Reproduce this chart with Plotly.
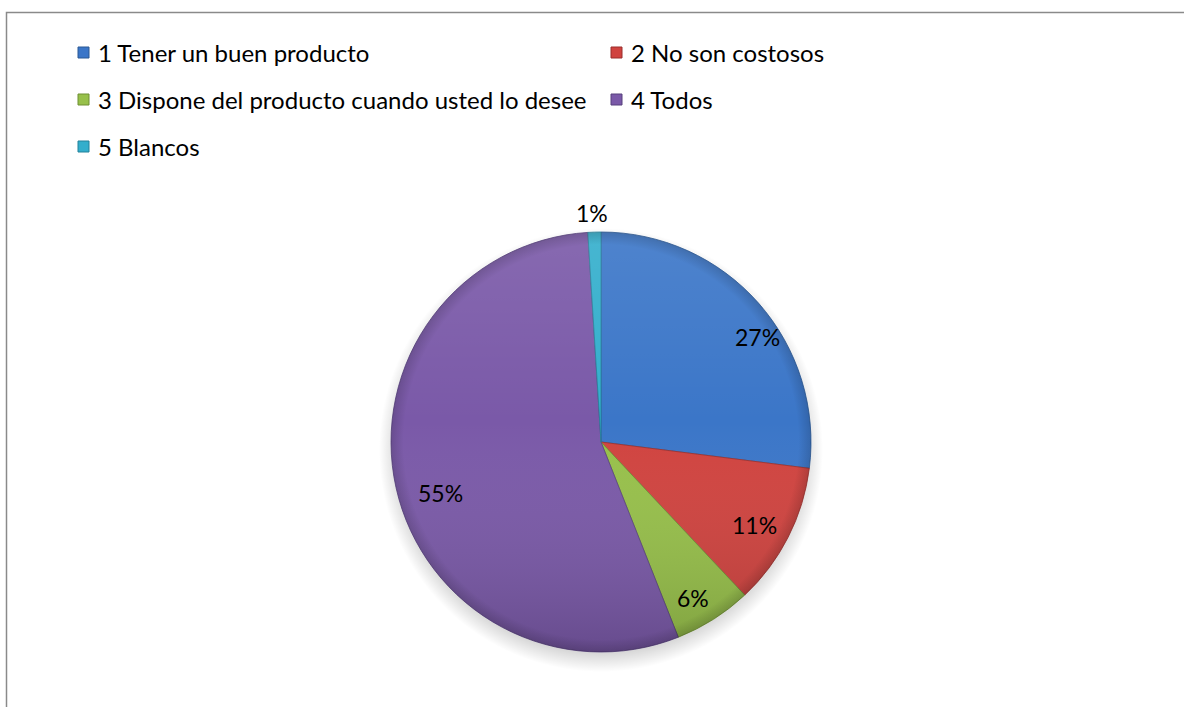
import base64
import math
import plotly.graph_objects as go

# Survey answers and their shares (%)
categories = [
    "1 Tener un buen producto",
    "2 No son costosos",
    "3 Dispone del producto cuando usted lo desee",
    "4 Todos",
    "5 Blancos",
]
values = [27, 11, 6, 55, 1]

# Styling
colors = ["#3b76c8", "#d0433f", "#97c04a", "#7a59a8", "#33aecc"]
edge_colors = ["#2a5894", "#9a2f2c", "#6f8f33", "#57407d", "#23819a"]
label_angle_shift = [7.5, 1.3, 1.8, -4.9, -0.4]   # degrees, label nudge along the rim
label_radius = [0.895, 0.83, 0.865, 0.80, 1.09]   # fraction of pie radius

W, H = 1184, 707
FONT = "Lato"
CX, CY, R = 601, 442, 210


def px(x):
    return x / W


def py(y):
    return 1 - y / H


fig = go.Figure()

fig.add_trace(go.Pie(
    labels=categories,
    values=values,
    sort=False,
    direction="clockwise",
    rotation=0,
    textinfo="none",
    hoverinfo="label+percent",
    marker=dict(colors=colors, line=dict(color=edge_colors, width=0.8)),
    domain=dict(x=[px(CX - R), px(CX + R)], y=[py(CY + R), py(CY - R)]),
    showlegend=False,
))

# Soft vertical shading over the pie
shade_svg = (
    '<svg xmlns="http://www.w3.org/2000/svg" width="420" height="420" viewBox="0 0 420 420">'
    '<defs><linearGradient id="g" x1="0" y1="0" x2="0" y2="1">'
    '<stop offset="0" stop-color="#ffffff" stop-opacity="0.10"/>'
    '<stop offset="0.45" stop-color="#ffffff" stop-opacity="0"/>'
    '<stop offset="1" stop-color="#000000" stop-opacity="0.16"/>'
    '</linearGradient>'
    '<radialGradient id="rim" cx="0.5" cy="0.5" r="0.5">'
    '<stop offset="0.94" stop-color="#000000" stop-opacity="0"/>'
    '<stop offset="1" stop-color="#000000" stop-opacity="0.15"/>'
    '</radialGradient></defs>'
    '<circle cx="210" cy="210" r="210" fill="url(#g)"/>'
    '<circle cx="210" cy="210" r="210" fill="url(#rim)"/>'
    '</svg>'
)
shadow_svg = (
    '<svg xmlns="http://www.w3.org/2000/svg" width="460" height="460" viewBox="0 0 460 460">'
    '<defs><radialGradient id="s" cx="0.5" cy="0.5" r="0.5">'
    '<stop offset="0.88" stop-color="#000000" stop-opacity="0.22"/>'
    '<stop offset="1" stop-color="#000000" stop-opacity="0"/>'
    '</radialGradient></defs>'
    '<circle cx="230" cy="230" r="230" fill="url(#s)"/>'
    '</svg>'
)


def data_uri(svg):
    return "data:image/svg+xml;base64," + base64.b64encode(svg.encode()).decode()


fig.add_layout_image(
    source=data_uri(shadow_svg), xref="paper", yref="paper",
    x=px(CX - R - 12), y=py(CY - R - 4), sizex=(2 * R + 24) / W, sizey=(2 * R + 24) / H,
    xanchor="left", yanchor="top", sizing="stretch", layer="below",
)
fig.add_layout_image(
    source=data_uri(shade_svg), xref="paper", yref="paper",
    x=px(CX - R), y=py(CY - R), sizex=2 * R / W, sizey=2 * R / H,
    xanchor="left", yanchor="top", sizing="stretch", layer="above",
)

# Percentage labels placed around each slice's bisector
total = sum(values)
start = 0.0
annotations = []
for i, v in enumerate(values):
    span = 360.0 * v / total
    ang = math.radians(start + span / 2 + label_angle_shift[i])
    r = R * label_radius[i]
    lx = CX + r * math.sin(ang)
    ly = CY - r * math.cos(ang)
    annotations.append(dict(
        x=px(lx), y=py(ly), xref="paper", yref="paper",
        text=f"{round(100 * v / total)}%", showarrow=False,
        xanchor="center", yanchor="middle",
        font=dict(family=FONT, size=23, color="#000000"),
    ))
    start += span

# Legend: two columns, three rows
legend_cols = [78, 611]
legend_text_x = [96, 629]
legend_rows = [52.5, 99.5, 146.5]
shapes = []
for i, name in enumerate(categories):
    col, row = i % 2, i // 2
    mx, my = legend_cols[col], legend_rows[row]
    shapes.append(dict(
        type="rect", xref="paper", yref="paper",
        x0=px(mx), x1=px(mx + 11), y0=py(my + 5.5), y1=py(my - 5.5),
        fillcolor=colors[i], line=dict(color=edge_colors[i], width=1),
    ))
    annotations.append(dict(
        x=px(legend_text_x[col]), y=py(my), xref="paper", yref="paper",
        text=name, showarrow=False, xanchor="left", yanchor="middle",
        font=dict(family=FONT, size=24, color="#000000"),
    ))

# Chart area border
shapes.append(dict(
    type="rect", xref="paper", yref="paper",
    x0=px(6.5), x1=px(W + 20), y0=py(H + 20), y1=py(12.5),
    line=dict(color="#8a8a8a", width=1.5), fillcolor="rgba(0,0,0,0)",
))

fig.update_layout(
    width=W, height=H,
    margin=dict(l=0, r=0, t=0, b=0),
    paper_bgcolor="#ffffff",
    plot_bgcolor="#ffffff",
    shapes=shapes,
    annotations=annotations,
    font=dict(family=FONT),
)

fig.write_html("out.html")
